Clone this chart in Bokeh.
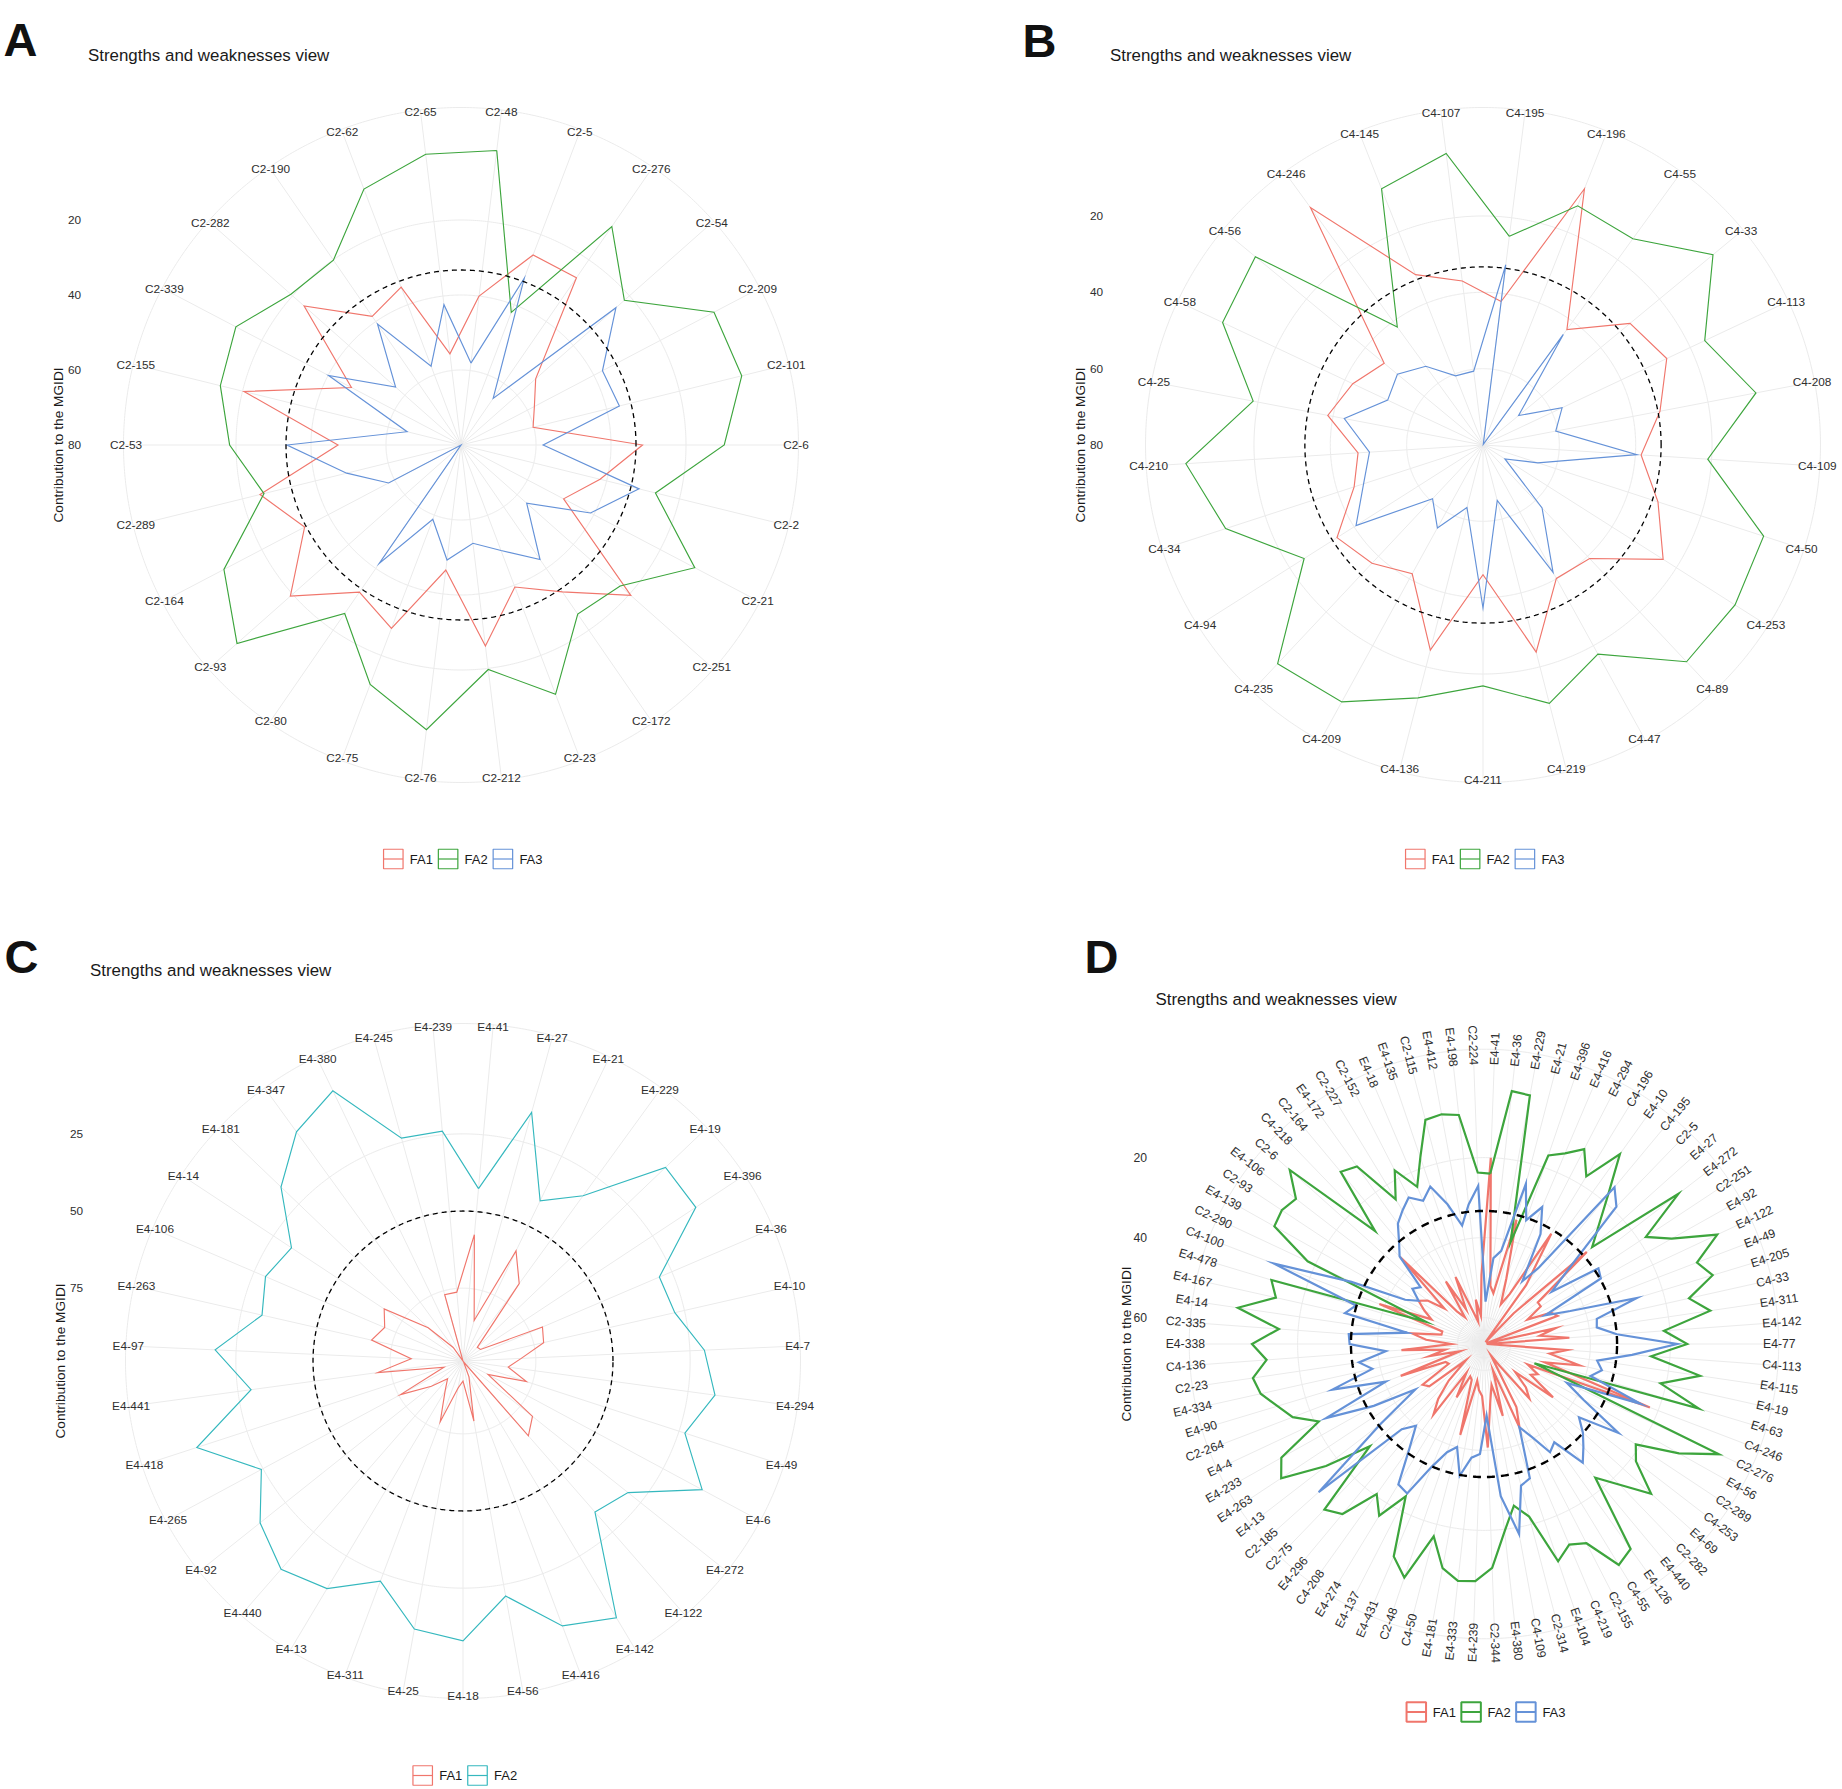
import numpy as np
from bokeh.plotting import figure
from bokeh.models import Range1d
from bokeh.core.properties import value
from bokeh.embed import file_html
from bokeh.resources import INLINE

# ---------------- DATA ----------------
a_genotypes = ["C2-48", "C2-5", "C2-276", "C2-54", "C2-209", "C2-101", "C2-6", "C2-2", "C2-21",
               "C2-251", "C2-172", "C2-23", "C2-212", "C2-76", "C2-75", "C2-80", "C2-93", "C2-164",
               "C2-289", "C2-53", "C2-155", "C2-339", "C2-282", "C2-190", "C2-62", "C2-65"]
a_fa1 = [40.0, 25.8, 25.8, 53.4, 57.9, 60.2, 31.6, 41.8, 49.1, 19.5, 32.4, 39.5, 26.0, 46.4,
         27.7, 32.3, 19.2, 32.9, 24.8, 47.2, 20.4, 47.0, 24.1, 38.3, 35.0, 55.5]
a_fa2 = [0.9, 42.2, 9.2, 21.8, 3.8, 2.9, 9.8, 26.6, 9.6, 23.3, 25.2, 8.9, 19.7, 3.5,
         11.7, 25.4, 0.2, 8.6, 25.9, 18.3, 13.9, 12.2, 19.4, 20.1, 7.0, 1.9]
a_fa3 = [58.0, 32.4, 64.9, 24.8, 37.4, 36.5, 58.1, 31.1, 41.0, 56.6, 42.9, 49.9, 53.6, 49.1,
         58.8, 41.6, 80.0, 58.2, 48.6, 33.6, 65.2, 40.1, 56.7, 40.8, 57.5, 42.3]

b_genotypes = ["C4-195", "C4-196", "C4-55", "C4-33", "C4-113", "C4-208", "C4-109", "C4-50",
               "C4-253", "C4-89", "C4-47", "C4-219", "C4-211", "C4-136", "C4-209", "C4-235",
               "C4-94", "C4-34", "C4-210", "C4-25", "C4-58", "C4-56", "C4-246", "C4-145", "C4-107"]
b_fa1 = [42.1, 7.8, 42.6, 30.0, 26.8, 32.8, 38.5, 31.8, 24.1, 39.2, 40.1, 24.0, 46.0, 24.5,
         41.5, 37.5, 34.7, 44.5, 47.2, 38.6, 42.3, 46.4, 3.1, 32.0, 36.7]
b_fa2 = [24.9, 12.6, 13.2, 1.8, 15.8, 7.2, 21.0, 2.7, 1.8, 2.1, 17.5, 10.1, 16.9, 11.6,
         3.2, 1.4, 24.5, 9.1, 2.0, 18.7, 4.6, 2.6, 41.8, 7.8, 3.0]
b_fa3 = [32.4, 79.8, 44.2, 67.9, 57.1, 60.6, 39.6, 64.9, 73.2, 57.4, 41.9, 65.0, 37.3, 63.1,
         55.2, 60.7, 40.6, 47.1, 50.2, 43.0, 52.4, 50.9, 54.5, 60.5, 60.5]

c_genotypes = ["E4-41", "E4-27", "E4-21", "E4-229", "E4-19", "E4-396", "E4-36", "E4-10", "E4-7",
               "E4-294", "E4-49", "E4-6", "E4-272", "E4-122", "E4-142", "E4-416", "E4-56", "E4-18",
               "E4-25", "E4-311", "E4-13", "E4-440", "E4-92", "E4-265", "E4-418", "E4-441", "E4-97",
               "E4-263", "E4-106", "E4-14", "E4-181", "E4-347", "E4-380", "E4-245", "E4-239"]
c_fa1 = [57.5, 85.0, 59.0, 67.6, 92.2, 91.8, 70.6, 71.8, 79.7, 83.8, 77.0, 89.4, 69.8, 66.4,
         98.3, 93.1, 78.8, 92.1, 89.7, 77.6, 87.3, 91.0, 85.5, 75.6, 92.1, 70.7, 81.8, 68.2,
         71.0, 68.0, 83.0, 93.2, 98.6, 76.3, 76.2]
c_fa2 = [42.5, 15.0, 41.0, 32.4, 7.8, 8.2, 29.4, 28.2, 20.3, 16.2, 23.0, 10.6, 30.2, 33.6,
         1.7, 6.9, 21.2, 7.9, 10.3, 22.4, 12.7, 9.0, 14.5, 24.4, 7.9, 29.3, 18.2, 31.8,
         29.0, 32.0, 17.0, 6.8, 1.4, 23.7, 23.8]

d_genotypes = ["E4-41", "E4-36", "E4-229", "E4-21", "E4-396", "E4-416", "E4-294", "C4-196",
               "E4-10", "C4-195", "C2-5", "E4-27", "E4-272", "C2-251", "E4-92", "E4-122", "E4-49",
               "E4-205", "C4-33", "E4-311", "E4-142", "E4-77", "C4-113", "E4-115", "E4-19",
               "E4-63", "C4-246", "C2-276", "E4-56", "C2-289", "C4-253", "E4-69", "C2-282",
               "E4-440", "E4-126", "C4-55", "C2-155", "C4-219", "E4-104", "C2-314", "C4-109",
               "E4-380", "C2-344", "E4-239", "E4-333", "E4-181", "C4-50", "C2-48", "E4-431",
               "E4-137", "E4-274", "C4-208", "E4-296", "C2-75", "C2-185", "E4-13", "E4-263",
               "E4-233", "E4-4", "C2-264", "E4-90", "E4-334", "C2-23", "C4-136", "E4-338",
               "C2-335", "E4-14", "E4-167", "E4-478", "C4-100", "C2-290", "E4-139", "C2-93",
               "E4-106", "C2-6", "C4-218", "C2-164", "E4-172", "C2-227", "C2-152", "E4-18",
               "E4-135", "C2-115", "E4-412", "E4-198", "C2-224"]
d_fa1 = [20.0, 52.0, 53.7, 34.5, 49.3, 55.8, 52.5, 34.3, 48.5, 66.0,
         55.9, 32.1, 49.6, 49.6, 54.1, 48.1, 46.9, 66.0, 48.2, 52.5,
         45.2, 65.9, 45.8, 50.0, 42.2, 50.7, 22.2, 54.6, 51.2, 52.6,
         44.8, 56.1, 51.5, 48.9, 60.0, 63.2, 48.9, 43.9, 59.7, 48.0,
         56.2, 52.2, 40.7, 53.6, 55.0, 57.3, 43.1, 57.1, 57.8, 51.6,
         58.2, 44.9, 48.7, 53.9, 60.6, 49.3, 48.2, 56.5, 56.0, 44.3,
         60.3, 52.6, 56.8, 45.9, 58.4, 52.1, 48.4, 55.7, 55.7, 38.6,
         52.1, 49.5, 47.0, 48.8, 53.3, 36.4, 56.0, 58.4, 48.3, 56.8,
         48.4, 57.7, 60.8, 55.3, 59.5, 49.3]
d_fa2 = [24.0, 3.0, 3.4, 40.3, 16.8, 14.8, 11.8, 17.5, 8.2, 18.1,
         25.2, 30.3, 5.2, 18.1, 12.8, 2.2, 9.6, 6.9, 14.1, 9.4,
         21.5, 15.8, 24.7, 12.0, 21.4, 10.5, 53.1, 1.7, 10.7, 21.1,
         18.6, 10.5, 17.7, 23.1, 3.6, 1.9, 10.6, 12.1, 9.2, 22.0,
         25.5, 19.5, 10.6, 7.3, 7.0, 9.6, 16.9, 4.9, 8.9, 23.8,
         16.3, 20.5, 11.3, 9.1, 28.3, 16.7, 5.8, 8.5, 21.0, 15.4,
         12.7, 9.4, 8.2, 12.1, 8.6, 15.2, 4.4, 13.3, 11.1, 51.0,
         17.9, 6.5, 6.0, 7.2, 1.4, 27.4, 10.6, 12.0, 24.2, 17.8,
         23.9, 17.3, 8.7, 8.2, 9.0, 23.7]
d_fa3 = [56.0, 45.0, 42.9, 25.2, 33.9, 29.4, 35.7, 48.2, 43.3, 15.6,
         18.9, 37.6, 45.2, 32.3, 33.1, 49.7, 43.5, 26.7, 37.7, 38.1,
         33.3, 18.3, 29.5, 38.0, 36.4, 38.8, 24.7, 43.7, 38.1, 26.3,
         36.6, 33.4, 30.8, 28.0, 36.4, 34.9, 40.5, 44.0, 31.1, 30.0,
         18.3, 28.3, 48.7, 39.1, 38.0, 33.1, 40.0, 38.0, 33.3, 24.6,
         25.5, 34.6, 40.0, 37.0, 11.1, 34.0, 46.0, 35.0, 23.0, 40.3,
         27.0, 38.0, 35.0, 42.0, 33.0, 32.7, 47.2, 31.0, 33.2, 10.4,
         30.0, 44.0, 47.0, 44.0, 45.3, 36.2, 33.4, 29.6, 27.5, 25.4,
         27.7, 25.0, 30.5, 36.5, 31.5, 27.0]

factor_names3 = ["FA1", "FA2", "FA3"]
factor_names2 = ["FA1", "FA2"]
a_breaks = [20, 40, 60, 80]
b_breaks = [20, 40, 60, 80]
c_breaks = [25, 50, 75]
d_breaks = [20, 40, 60]

# ---------------- STYLE / LAYOUT ----------------
FONT = "Liberation Sans"
GRID = "#EBEBEB"
TXT = "#2E2E2E"
RED, GREEN, BLUE, TEAL = "#F0766C", "#3DA53D", "#6592D8", "#35B8BE"

W, H = 1842, 1789
p = figure(width=W, height=H, x_range=Range1d(0, W), y_range=Range1d(-H, 0),
           output_backend="svg", toolbar_location=None, x_axis_type=None, y_axis_type=None,
           min_border=0, outline_line_color=None, background_fill_color="white",
           border_fill_color="white")
p.grid.visible = False

TT = np.linspace(0, 2 * np.pi, 721)


def circle(cx, cy, r, **kw):
    p.line(cx + r * np.cos(TT), -cy + r * np.sin(TT), **kw)


def txt(x, y, s, size, align="left", baseline="middle", angle=0.0, color=TXT, style="normal"):
    p.text(x=list(x), y=list(y), text=list(s), text_font=value(FONT), text_font_size=size,
           text_align=align, text_baseline=baseline, angle=angle, text_color=color,
           text_font_style=style)


def panel(cfg, genos, series, colors, names, breaks):
    n = len(genos)
    th = (np.arange(n) + 0.5) / n * 2 * np.pi
    cx, cy, k, vmax = cfg["cx"], cfg["cy"], cfg["k"], cfg["vmax"]
    r_out = 1.125 * cfg["R"]
    # grid circles
    for b in breaks:
        r = (vmax - b) * k
        if r > 2:
            circle(cx, cy, r, line_color=GRID, line_width=1)
    circle(cx, cy, r_out, line_color=GRID, line_width=1)
    # spokes
    p.segment(x0=[cx] * n, y0=[-cy] * n, x1=list(cx + r_out * np.sin(th)),
              y1=list(-cy + r_out * np.cos(th)), line_color=GRID, line_width=1)
    # series polygons
    for vals, col in zip(series, colors):
        r = (vmax - np.asarray(vals)) * k
        x = cx + r * np.sin(th)
        y = -cy + r * np.cos(th)
        p.line(np.append(x, x[0]), np.append(y, y[0]), line_color=col,
               line_width=cfg["lw"], line_join="miter")
    # threshold
    circle(cx, cy, (vmax - 100.0 / len(series)) * k, line_color="black",
           line_width=cfg["dw"], line_dash=cfg["dash"])
    # category labels
    rl = cfg["rlab"]
    lx = cx + rl * np.sin(th)
    ly = -cy + rl * np.cos(th)
    if cfg["rot"]:
        right = th < np.pi
        g = np.array(genos)
        txt(lx[right], ly[right], g[right], cfg["fs"], align="left",
            angle=list(np.pi / 2 - th[right]))
        txt(lx[~right], ly[~right], g[~right], cfg["fs"], align="right",
            angle=list(1.5 * np.pi - th[~right]))
    else:
        txt(lx, ly, genos, cfg["fs"], align="center")
    # radial axis labels
    ys = [-cy + (vmax - b) * k for b in breaks]
    txt([cx - cfg["axo"]] * len(breaks), ys, [str(b) for b in breaks], cfg["fs"], align="right")
    txt([cx - cfg["tito"]], [-cy], ["Contribution to the MGIDI"], "13.7px", align="center",
        angle=np.pi / 2, color="#1A1A1A")
    # title
    txt([cx - cfg["tx"]], [-cfg["ty"]], ["Strengths and weaknesses view"], "16.9px",
        align="left", color="#1A1A1A")
    # panel letter
    txt([cfg["lx"]], [-cfg["ly"]], [cfg["letter"]], "47px", align="left",
        baseline="alphabetic", color="#111111", style="bold")
    # legend
    m = len(names)
    first = -m * 27.4 + 14.5
    for j, (nm, col) in enumerate(zip(names, colors)):
        bx = cx + first + j * 54.8
        yy = -cfg["legy"]
        p.rect(x=[bx], y=[yy], width=19.5, height=19.5, fill_color=None, line_color=col,
               line_width=cfg["lgw"])
        p.segment(x0=[bx - 9.75], y0=[yy], x1=[bx + 9.75], y1=[yy], line_color=col,
                  line_width=cfg["lgw"])
        txt([bx + 16.5], [yy], [nm], "13px", align="left", color="#1A1A1A")


cfgA = dict(cx=460.5, cy=444.5, k=3.75, vmax=80.0, R=300, lw=1.15, dw=1.3, dash="5 4",
            rot=False, rlab=335, fs="11.8px", axo=380, tito=402.5, tx=373, ty=54.5, lx=3,
            ly=39, letter="A", legy=858.5, lgw=1.2)
cfgB = dict(cfgA, cx=1482.5, cy=444.5, k=3.817, vmax=80.0, lx=1022, ly=40, letter="B")
cfgC = dict(cfgA, cx=462.5, cy=1360.5, k=3.086, vmax=98.6, lx=4, ly=956, letter="C",
            ty=970, legy=1775)
cfgD = dict(cfgA, cx=1483.5, cy=1343.5, k=4.0, vmax=66.6, R=262, lw=2.2, dw=2.4, dash="8 6",
            rot=True, rlab=279, fs="12.2px", axo=337, tito=357.5, tx=328.5, ty=999,
            lx=1084, ly=956, letter="D", legy=1711.5, lgw=2.0)

panel(cfgA, a_genotypes, [a_fa1, a_fa2, a_fa3], [RED, GREEN, BLUE], factor_names3, a_breaks)
panel(cfgB, b_genotypes, [b_fa1, b_fa2, b_fa3], [RED, GREEN, BLUE], factor_names3, b_breaks)
panel(cfgC, c_genotypes, [c_fa1, c_fa2], [RED, TEAL], factor_names2, c_breaks)
panel(cfgD, d_genotypes, [d_fa1, d_fa2, d_fa3], [RED, GREEN, BLUE], factor_names3, d_breaks)

open("out.html", "w").write(file_html(p, INLINE))
